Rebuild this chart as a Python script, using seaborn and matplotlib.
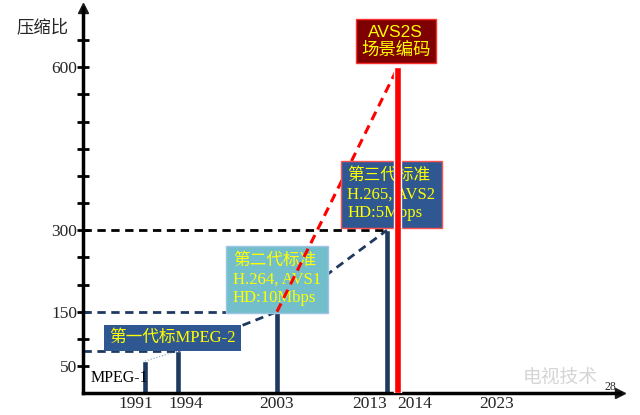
import matplotlib
matplotlib.use('Agg')
import matplotlib.pyplot as plt
import matplotlib.transforms as mtransforms
import seaborn as sns
import pandas as pd

# 各代标准：年份 / 压缩比
years = [1991, 1994, 2003, 2013]
ratios = [59, 78, 150, 300]
avs2s_year = [2014]
avs2s_ratio = [600]

# 坐标轴
ytick_vals = list(range(50, 700, 50))
ytick_show = [50, 150, 300, 600]
xtick_years = [1991, 1994, 2003, 2013, 2014, 2023]

navy = '#1F3A60'
box_navy = '#2F5892'
yellow = '#FFFF00'

sns.set_theme(style='white')
plt.rcParams['font.family'] = ['Liberation Serif', 'Noto Sans CJK SC']

fig = plt.figure(figsize=(6.4, 4.15), dpi=100)
ax = fig.add_axes([83 / 640, 21.8 / 415, 537 / 640, 385 / 415])

df = pd.DataFrame({'year': years, 'ratio': ratios})
sns.barplot(data=df, x='year', y='ratio', native_scale=True, width=0.19,
            color=navy, saturation=1, ax=ax, zorder=2)
df2 = pd.DataFrame({'year': avs2s_year, 'ratio': avs2s_ratio})
sns.barplot(data=df2, x='year', y='ratio', native_scale=True, width=0.65,
            color='#FF0000', saturation=1, ax=ax, zorder=6)

x0, x1 = 1985.36, 2034.2
ax.set_xlim(x0, x1)
ax.set_ylim(0, 708.6)

# 虚线连接
ax.plot(years[:2], ratios[:2], color='#8899BB', lw=0.8, ls=':', zorder=2)
sns.lineplot(x=years[1:], y=ratios[1:], color=navy, lw=2, ax=ax,
             dashes=False, zorder=2).lines[-1].set_dashes((3, 2))
ax.hlines(ratios[1], x0, years[1], color=navy, lw=2, linestyles=(0, (3, 2)), zorder=2)
ax.hlines(ratios[2], x0, years[2], color=navy, lw=2, linestyles=(0, (3, 2)), zorder=2)
ax.hlines(ratios[3], x0, years[3], color='black', lw=2, linestyles=(0, (3, 2)), zorder=2)
ax.plot([years[2], avs2s_year[0]], [ratios[2], avs2s_ratio[0]], color='#FF0000',
        lw=2.2, ls=(0, (3, 2)), zorder=4)

# 标注框
ax.text(1993.5, 102, '第一代标MPEG-2', ha='center', va='center', fontsize=12,
        color=yellow, zorder=5,
        bbox=dict(boxstyle='square,pad=0.3', fc=box_navy, ec='none'))
ax.text(1999.0, 209, '第二代标准\nH.264, AVS1\nHD:10Mbps', ha='left', va='center',
        fontsize=12, color=yellow, linespacing=1.22, zorder=3,
        bbox=dict(boxstyle='square,pad=0.4', fc='#72BFCB', ec='#9DC3E6', lw=1))
ax.text(2009.4, 366, '第三代标准\nH.265, AVS2\nHD:5Mbps', ha='left', va='center',
        fontsize=12, color=yellow, linespacing=1.22, zorder=4.5,
        bbox=dict(boxstyle='square,pad=0.4', fc=box_navy, ec='#FF5050', lw=1))
ax.text(2013.8, 648, 'AVS2S\n场景编码', ha='center', va='center', fontsize=12.5,
        family=['Liberation Sans', 'Noto Sans CJK SC'], color=yellow,
        linespacing=1.15, zorder=7,
        bbox=dict(boxstyle='square,pad=0.3', fc='#7F0000', ec='#FF3030', lw=1))
ax.text(1988.7, 28, 'MPEG-1', ha='center', va='center', fontsize=11.5,
        color='black', zorder=5)

# 坐标轴样式
for s in ['top', 'right']:
    ax.spines[s].set_visible(False)
for s in ['left', 'bottom']:
    ax.spines[s].set_linewidth(2.5)
    ax.spines[s].set_color('black')
ax.plot(1, 0, '>k', ms=7, transform=ax.transAxes, clip_on=False)
ax.plot(0, 1, '^k', ms=7, transform=ax.transAxes, clip_on=False)

ax.set_yticks(ytick_vals)
ax.set_yticklabels([str(v) if v in ytick_show else '' for v in ytick_vals])
ax.tick_params(axis='y', direction='inout', length=8, width=2, pad=0,
               labelsize=12.5, left=True, color='black')
ax.set_xticks(xtick_years)
ax.set_xticklabels([str(y) for y in xtick_years])
ax.tick_params(axis='x', length=0, pad=2, labelsize=12.5, bottom=False)
shift = {1991: -9, 1994: 8, 2013: -17, 2014: 17}
for lab, yr in zip(ax.get_xticklabels(), xtick_years):
    dx = shift.get(yr, 0)
    lab.set_transform(lab.get_transform() +
                      mtransforms.ScaledTranslation(dx / 100, 0, fig.dpi_scale_trans))
ax.set_xlabel('')
ax.set_ylabel('')

fig.text(43 / 640, 1 - 27 / 415, '压缩比', ha='center', va='center', fontsize=12.5,
         family=['Noto Sans CJK SC'])
fig.text(560 / 640, 1 - 377 / 415, '电视技术', ha='center', va='center', fontsize=13.5,
         family=['Noto Sans CJK SC'], color='#D5D5D5')
fig.text(610 / 640, 1 - 387 / 415, '28', ha='center', va='center', fontsize=8.5)

fig.savefig('out.png', dpi=100)
